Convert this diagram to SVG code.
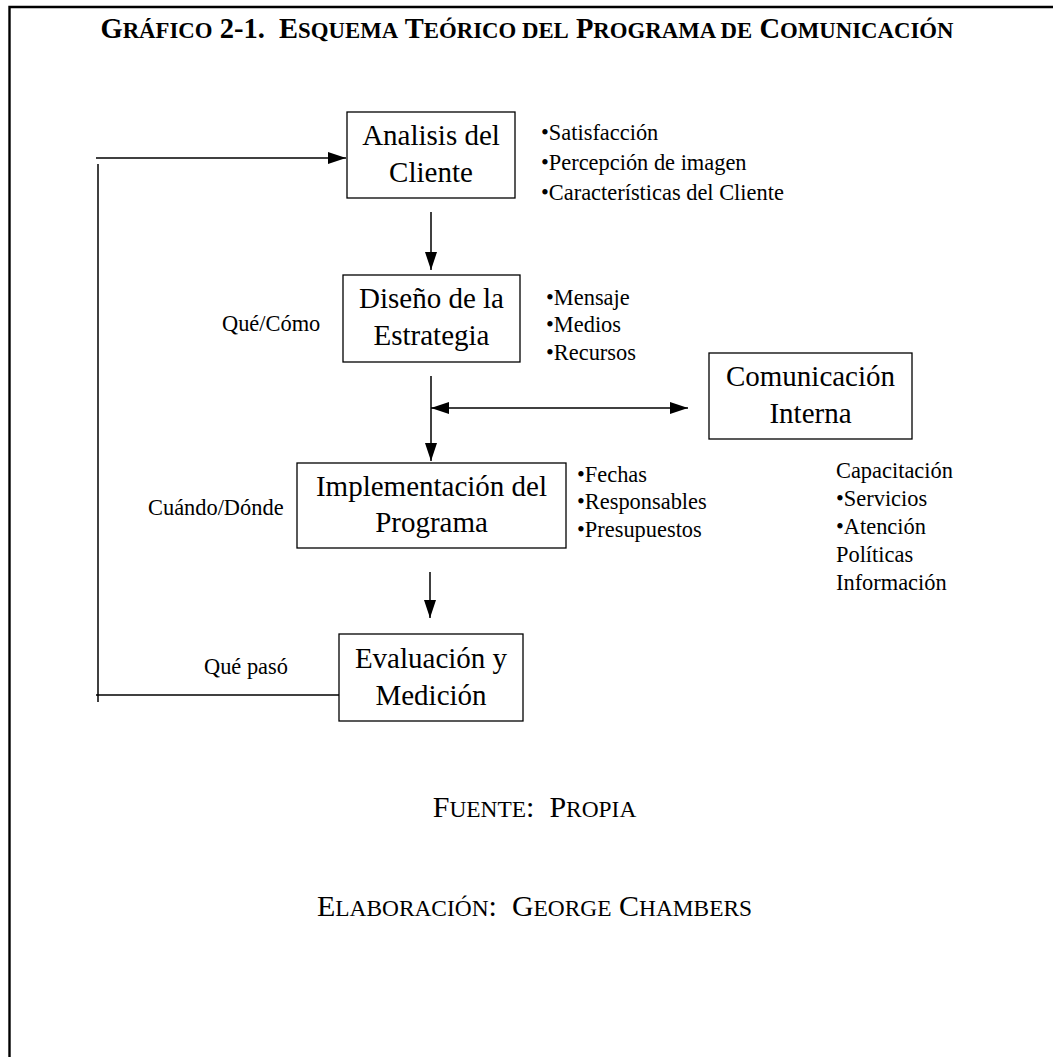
<svg xmlns="http://www.w3.org/2000/svg" width="1053" height="1057" viewBox="0 0 1053 1057">
  <style>
    text { font-family: "Liberation Serif", "Times New Roman", serif; fill: #000; }
    .title { font-size: 28.5px; font-weight: bold; }
    .sc { font-size: 80%; }
    .foot .sc { font-size: 78%; }
    .node rect { fill: #fff; stroke: #000; stroke-width: 1.3; }
    .node text { font-size: 29px; text-anchor: middle; }
    .note { font-size: 22.4px; }
    .foot { font-size: 30px; text-anchor: middle; }
    .conn line { stroke: #000; stroke-width: 1.5; fill: none; }
    .frame { stroke: #000; stroke-width: 2.4; fill: none; }
  </style>
  <defs>
    <marker id="arrow" markerUnits="userSpaceOnUse" markerWidth="18" markerHeight="12" refX="18" refY="6" orient="auto">
      <path d="M0,0 L18,6 L0,12 Z" fill="#000"/>
    </marker>
    <marker id="arrowStart" markerUnits="userSpaceOnUse" markerWidth="18" markerHeight="12" refX="0" refY="6" orient="auto">
      <path d="M18,0 L0,6 L18,12 Z" fill="#000"/>
    </marker>
  </defs>

  <rect width="1053" height="1057" fill="#fff"/>

  <!-- page frame: top and left rules only -->
  <path class="frame" d="M9.5,1057 V7 H1053"/>

  <!-- title -->
  <text class="title" x="527" y="38" text-anchor="middle" xml:space="preserve">G<tspan class="sc">RÁFICO</tspan> 2-1.  E<tspan class="sc">SQUEMA</tspan> T<tspan class="sc">EÓRICO DEL</tspan> P<tspan class="sc">ROGRAMA DE</tspan> C<tspan class="sc">OMUNICACIÓN</tspan></text>

  <!-- connectors -->
  <g id="connectors" class="conn">
    <line x1="96" y1="158" x2="346" y2="158" marker-end="url(#arrow)"/>
    <line x1="98" y1="164" x2="98" y2="702"/>
    <line x1="96" y1="695" x2="339" y2="695"/>
    <line x1="431" y1="212" x2="431" y2="270" marker-end="url(#arrow)"/>
    <line x1="431" y1="376" x2="431" y2="461" marker-end="url(#arrow)"/>
    <line x1="431" y1="408" x2="688" y2="408" marker-start="url(#arrowStart)" marker-end="url(#arrow)"/>
    <line x1="430" y1="572" x2="430" y2="618" marker-end="url(#arrow)"/>
  </g>

  <!-- nodes -->
  <g id="analisis" class="node">
    <rect x="347" y="112" width="168" height="86"/>
    <text x="431" y="145">Analisis del</text>
    <text x="431" y="182">Cliente</text>
  </g>
  <g id="diseno" class="node">
    <rect x="343" y="275" width="177" height="87"/>
    <text x="431.5" y="308">Diseño de la</text>
    <text x="431.5" y="345">Estrategia</text>
  </g>
  <g id="comunicacion" class="node">
    <rect x="709" y="353" width="203" height="86"/>
    <text x="810.5" y="386">Comunicación</text>
    <text x="810.5" y="423">Interna</text>
  </g>
  <g id="implementacion" class="node">
    <rect x="297" y="463" width="269" height="85"/>
    <text x="431.5" y="496">Implementación del</text>
    <text x="431.5" y="532">Programa</text>
  </g>
  <g id="evaluacion" class="node">
    <rect x="339" y="634" width="184" height="87"/>
    <text x="431" y="668">Evaluación y</text>
    <text x="431" y="705">Medición</text>
  </g>

  <!-- side notes -->
  <g id="notes-analisis">
    <text class="note" x="541" y="140">•Satisfacción</text>
    <text class="note" x="541" y="170">•Percepción de imagen</text>
    <text class="note" x="541" y="200">•Características del Cliente</text>
  </g>
  <g id="notes-diseno">
    <text class="note" x="222" y="331">Qué/Cómo</text>
    <text class="note" x="546" y="305">•Mensaje</text>
    <text class="note" x="546" y="332">•Medios</text>
    <text class="note" x="546" y="360">•Recursos</text>
  </g>
  <g id="notes-implementacion">
    <text class="note" x="148" y="515">Cuándo/Dónde</text>
    <text class="note" x="577" y="482">•Fechas</text>
    <text class="note" x="577" y="509">•Responsables</text>
    <text class="note" x="577" y="537">•Presupuestos</text>
  </g>
  <g id="notes-comunicacion">
    <text class="note" x="836" y="478">Capacitación</text>
    <text class="note" x="836" y="506">•Servicios</text>
    <text class="note" x="836" y="534">•Atención</text>
    <text class="note" x="836" y="562">Políticas</text>
    <text class="note" x="836" y="590">Información</text>
  </g>
  <g id="notes-evaluacion">
    <text class="note" x="204" y="674">Qué pasó</text>
  </g>

  <!-- source and credits -->
  <text class="foot" x="534.5" y="817" xml:space="preserve">F<tspan class="sc">UENTE</tspan>:  P<tspan class="sc">ROPIA</tspan></text>
  <text class="foot" x="534.5" y="916" xml:space="preserve">E<tspan class="sc">LABORACIÓN</tspan>:  G<tspan class="sc">EORGE</tspan> C<tspan class="sc">HAMBERS</tspan></text>
</svg>
